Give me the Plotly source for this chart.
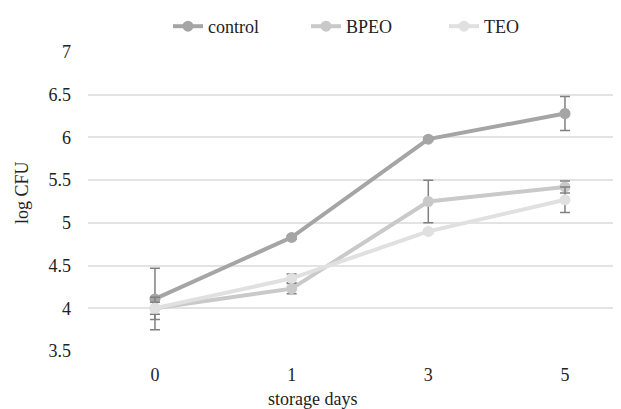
import plotly.graph_objects as go

days = ["0", "1", "3", "5"]
control = [4.11, 4.83, 5.98, 6.28]
control_err = [0.36, 0.02, 0.02, 0.20]
bpeo = [4.00, 4.23, 5.25, 5.42]
bpeo_err = [0.07, 0.06, 0.25, 0.07]
teo = [4.00, 4.35, 4.90, 5.27]
teo_err = [0.13, 0.05, 0.02, 0.15]

series = [
    ("control", control, control_err, "#A5A5A5"),
    ("BPEO", bpeo, bpeo_err, "#C9C9C9"),
    ("TEO", teo, teo_err, "#E0E0E0"),
]

xs = list(range(len(days)))
fig = go.Figure()
for name, vals, errs, col in series:
    fig.add_trace(go.Scatter(
        x=xs, y=vals, name=name, mode="lines+markers",
        line=dict(color=col, width=4),
        marker=dict(color=col, size=11),
        error_y=dict(type="data", array=errs, visible=True,
                     color="#808080", thickness=1.5, width=5),
        cliponaxis=False,
    ))

# page body has an 8px default margin: lay out in figure coords = page - 8
OFF = 8
W, H = 621 - OFF, 409 - OFF
plot_l, plot_r, plot_t, plot_b = 88 - OFF, 621 - OFF, 52 - OFF, 351 - OFF

def px_x(px):
    return (px - OFF - plot_l) / (plot_r - plot_l)
def px_y(py):
    return (plot_b - (py - OFF)) / (plot_b - plot_t)

font = "Liberation Serif, Times New Roman, serif"
tf = dict(family=font, size=18, color="#222222")
fig.update_layout(
    width=W, height=H,
    margin=dict(l=plot_l, r=W - plot_r, t=plot_t, b=H - plot_b, autoexpand=False),
    paper_bgcolor="white", plot_bgcolor="white",
    font=tf,
    showlegend=True,
    legend=dict(orientation="h", x=px_x(168), xanchor="left",
                y=1.0, yanchor="top", yref="container", font=tf,
                entrywidth=93, itemwidth=30, tracegroupgap=0),
    xaxis=dict(range=[-0.49, 3.41], tickvals=xs, ticktext=days, tickfont=tf,
               showgrid=False, zeroline=False, showline=False,
               ticks="", ticklabelstandoff=11),
    yaxis=dict(range=[3.5, 7], dtick=0.5, tick0=3.5, tickfont=tf,
               showgrid=True, gridcolor="#E3E3E3", gridwidth=1.5,
               zeroline=False, showline=False, ticks="", ticklabelstandoff=16),
    annotations=[
        dict(text="storage days", x=px_x(312), xref="paper", xanchor="center",
             y=px_y(399), yref="paper", yanchor="middle", showarrow=False,
             font=tf),
        dict(text="log CFU", x=px_x(22), xref="paper", xanchor="center",
             y=px_y(193), yref="paper", yanchor="middle", showarrow=False,
             textangle=-90, font=tf),
    ],
)

fig.write_html("out.html")
